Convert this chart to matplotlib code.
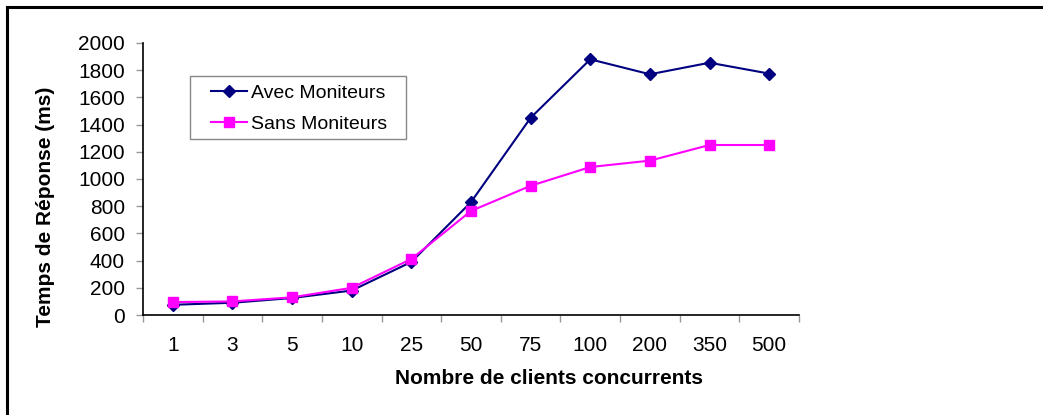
import numpy as np
import matplotlib
matplotlib.use("Agg")
import matplotlib.pyplot as plt
from matplotlib.lines import Line2D
from matplotlib.patches import Rectangle

plt.rcParams['font.family'] = ['Liberation Sans', 'DejaVu Sans']

# nombre de clients et temps de reponse mesures (ms)
clients = ['1', '3', '5', '10', '25', '50', '75', '100', '200', '350', '500']
avec_moniteurs = [75, 90, 125, 180, 390, 830, 1450, 1880, 1770, 1855, 1775]
sans_moniteurs = [95, 100, 130, 200, 412, 765, 950, 1088, 1135, 1250, 1250]

W, H = 1043, 415


def main():
    fig = plt.figure(figsize=(W / 100, H / 100), dpi=100)
    ax = fig.add_axes([143 / W, 1 - 315 / H, (799 - 143) / W, (315 - 43) / H])

    x = np.arange(len(clients))
    ax.plot(x, avec_moniteurs, '-D', color='#000080', lw=1.5, ms=6.5,
            label='Avec Moniteurs')
    ax.plot(x, sans_moniteurs, '-s', color='#FF00FF', lw=1.5, ms=7.5,
            label='Sans Moniteurs')

    ax.set_xlim(-0.5, len(clients) - 0.5)
    ax.set_ylim(0, 2000)
    ax.set_yticks(range(0, 2001, 200))

    # labels au centre des categories, graduations entre elles
    ax.set_xticks(x)
    ax.set_xticklabels(clients)
    ax.set_xticks(np.arange(len(clients) + 1) - 0.5, minor=True)
    ax.tick_params(axis='x', which='major', length=0, pad=15, labelsize=15)
    ax.tick_params(axis='x', which='minor', length=5, color='#999999', width=1)
    ax.tick_params(axis='y', length=5, color='#999999', width=1, pad=8, labelsize=15)

    for side in ['top', 'right']:
        ax.spines[side].set_visible(False)
    ax.spines['left'].set_linewidth(1.2)
    ax.spines['bottom'].set_linewidth(1.2)

    fig.text(549 / W, 1 - 378 / H, 'Nombre de clients concurrents',
             ha='center', va='center', fontsize=15, fontweight='bold')
    fig.text(46 / W, 1 - 207 / H, 'Temps de Réponse (ms)', rotation=90,
             ha='center', va='center', fontsize=15, fontweight='bold')

    # legende sans cadre, le cadre est dessine a part
    ax.legend(loc='upper left', bbox_to_anchor=(211 / W, 1 - 84 / H),
              bbox_transform=fig.transFigure, fontsize=14, frameon=False,
              borderpad=0, handlelength=1.85, handletextpad=0.2,
              labelspacing=0.7, borderaxespad=0)
    fig.add_artist(Rectangle((190 / W, 1 - 139 / H), (406 - 190) / W, (139 - 76) / H,
                             transform=fig.transFigure, fill=False,
                             edgecolor='#888888', lw=1))

    # cadre autour du graphique
    fig.add_artist(Line2D([7 / W, 1], [1 - 7 / H, 1 - 7 / H], color='black', lw=2.2))
    fig.add_artist(Line2D([7 / W, 7 / W], [0, 1 - 7 / H], color='black', lw=2.2))

    fig.savefig('out.png', dpi=100)


if __name__ == '__main__':
    main()
